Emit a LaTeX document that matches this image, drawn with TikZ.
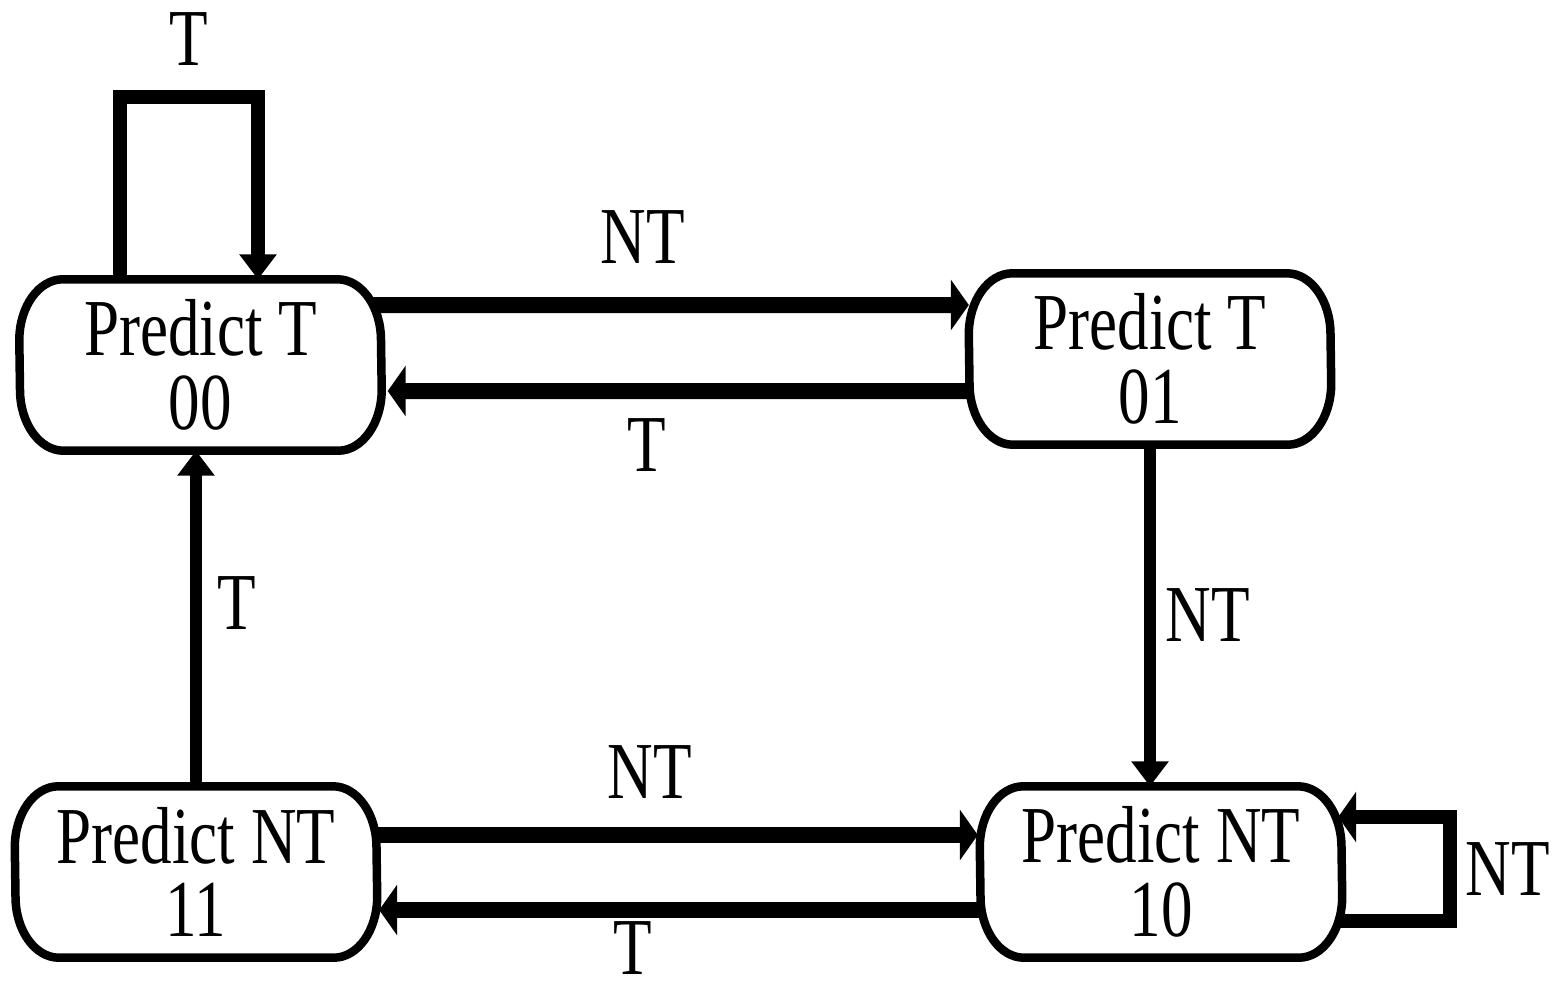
\documentclass[tikz,border=0pt]{standalone}
\usepackage{fontspec}
\setmainfont{Liberation Serif}[FakeStretch=0.78]
\usepackage{tikz}
\usetikzlibrary{arrows.meta}

\newcommand{\statefont}{\fontsize{23pt}{21pt}\selectfont}

\tikzset{
  state/.style={minimum width=3.61cm, minimum height=1.70cm, inner sep=0pt,
    align=center, font=\statefont},
  lbl/.style={inner sep=0pt, font=\statefont},
  rim/.style={line width=0.085cm},
  hhead/.style={-{Triangle[width=0.5cm,length=0.18cm]}},
  vhead/.style={-{Triangle[width=0.36cm,length=0.25cm]}},
  hflow/.style={line width=0.16cm, hhead},
  vflow/.style={line width=0.115cm, vhead},
  loopflow/.style={line width=0.135cm, line join=miter},
}

\begin{document}
\begin{tikzpicture}
\useasboundingbox (0,0) rectangle (15.53,-9.84);

\node[state] (s00) at (2.005,-3.65) {Predict T\\00};
\node[state] (s01) at (11.50,-3.59) {Predict T\\01};
\node[state] (s11) at (1.96,-8.72) {Predict NT\\11};
\node[state] (s10) at (11.61,-8.72) {Predict NT\\10};

% flat top and bottom, elliptic corners
\foreach \n in {s00,s01,s11,s10}
  \draw[rim] ([xshift=-1.37cm]\n.north) -- ([xshift=1.37cm]\n.north)
    arc[start angle=90,end angle=0,x radius=0.435cm,y radius=0.61cm]
    -- ([yshift=0.61cm]\n.south east)
    arc[start angle=0,end angle=-90,x radius=0.435cm,y radius=0.61cm]
    -- ([xshift=-1.37cm]\n.south)
    arc[start angle=270,end angle=180,x radius=0.435cm,y radius=0.61cm]
    -- ([yshift=-0.61cm]\n.north west)
    arc[start angle=180,end angle=90,x radius=0.435cm,y radius=0.61cm]
    -- cycle;

\draw[loopflow,vhead] ([xshift=-0.805cm]s00.north) -- ++(0,1.825) -| ([xshift=0.575cm]s00.north);
\node[lbl] (l1) at (1.89,-0.39) {T};

\draw[hflow] ([yshift=0.6cm,xshift=-0.09cm]s00.east) -- ([yshift=0.54cm]s01.west);
\node[lbl] (l2) at (6.43,-2.37) {NT};

\draw[hflow] ([yshift=-0.32cm,xshift=0.01cm]s01.west) -- ([yshift=-0.26cm,xshift=0.06cm]s00.east);
\node[lbl] (l3) at (6.47,-4.45) {T};

\draw[vflow] (s01.south) -- (s01.south |- s10.north);
\node[lbl] (l4) at (12.08,-6.15) {NT};

\draw[vflow] (s11.north) -- (s11.north |- s00.south);
\node[lbl] (l5) at (2.37,-6.03) {T};

\draw[hflow] ([yshift=0.37cm,xshift=-0.01cm]s11.east) -- ([yshift=0.37cm,xshift=-0.02cm]s10.west);
\node[lbl] (l6) at (6.50,-7.72) {NT};

\draw[hflow] ([yshift=-0.38cm,xshift=0.01cm]s10.west) -- ([yshift=-0.38cm,xshift=0.02cm]s11.east);
\node[lbl] (l7) at (6.33,-9.48) {T};

\draw[loopflow,hhead] ([yshift=-0.49cm,xshift=-0.04cm]s10.east) -- ++(1.12,0) |- ([yshift=0.55cm,xshift=-0.04cm]s10.east);
\node[lbl] (l8) at (15.08,-8.69) {NT};
\end{tikzpicture}
\end{document}
